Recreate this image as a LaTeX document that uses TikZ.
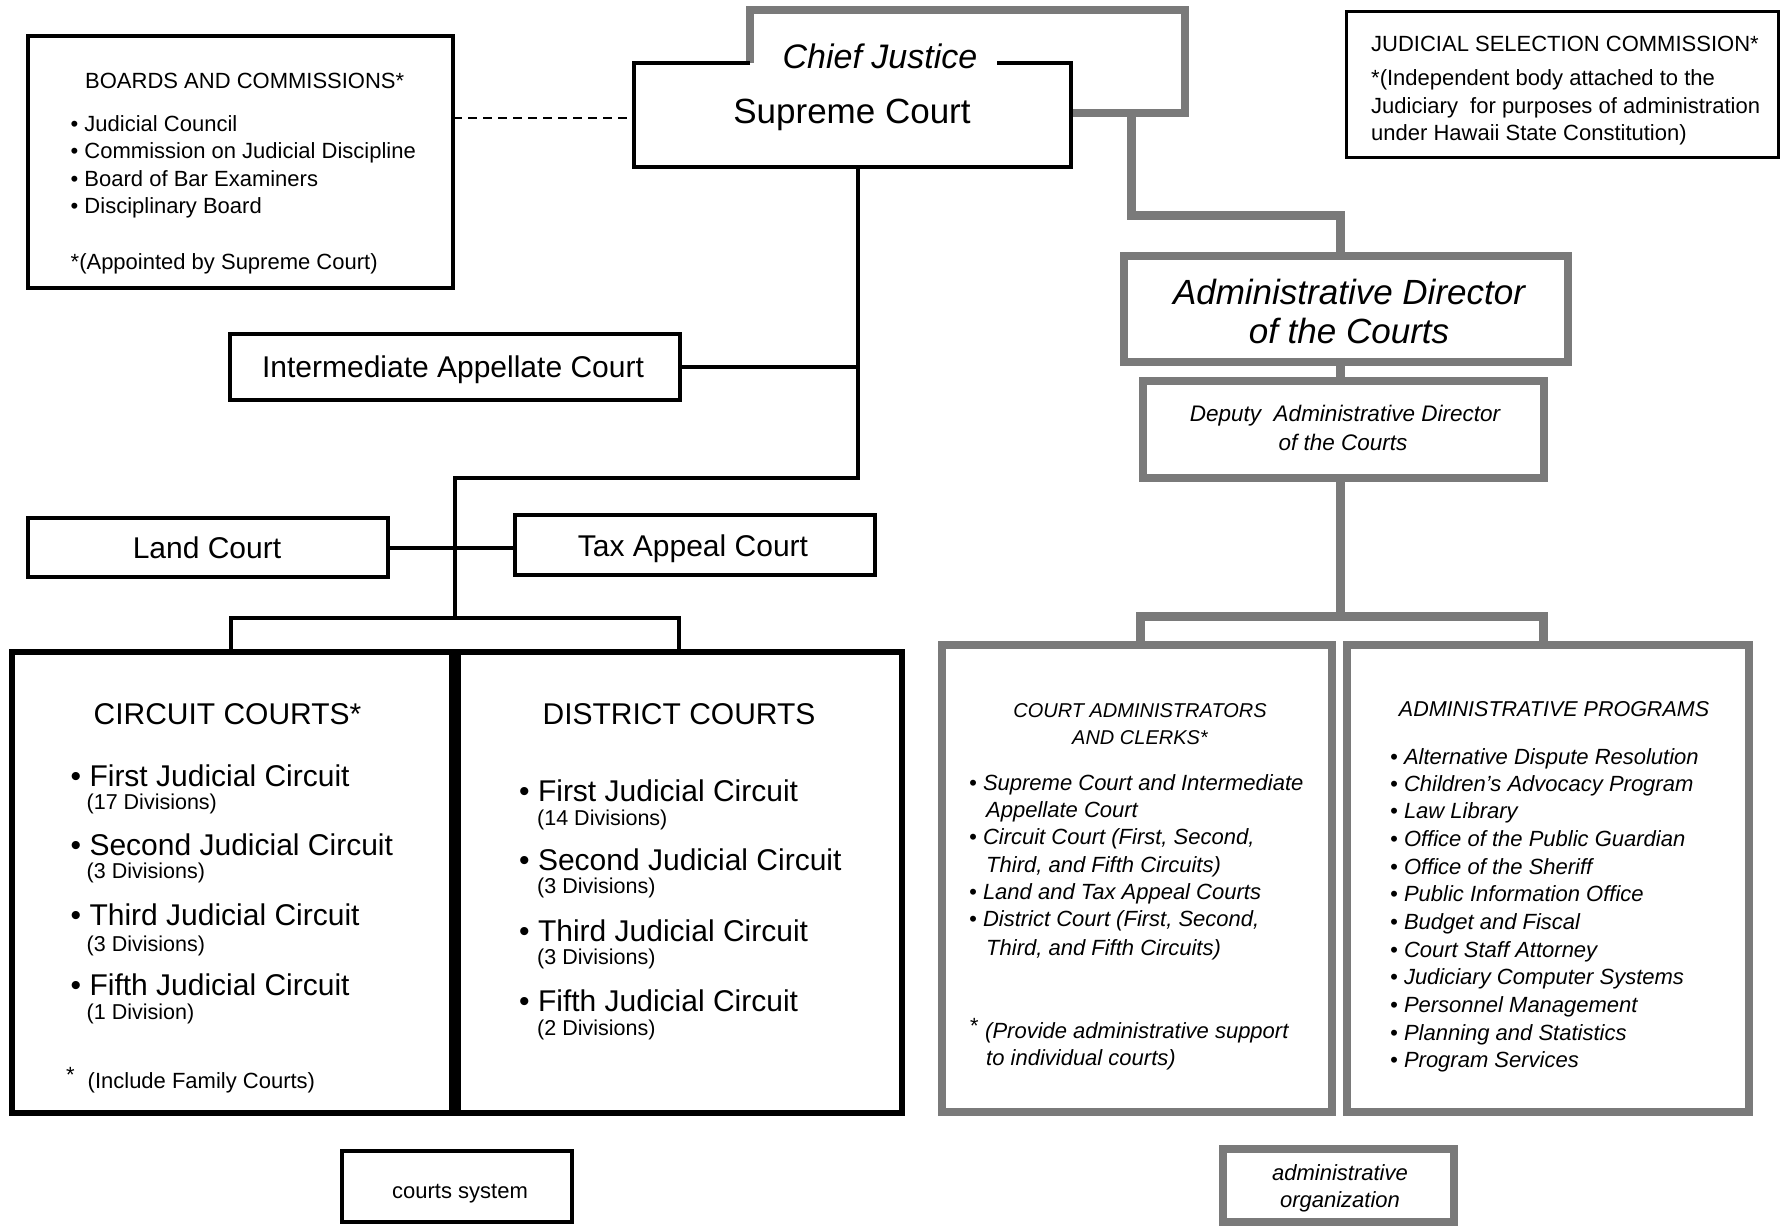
\documentclass[tikz,border=0pt]{standalone}
\usepackage{fontspec}
\setmainfont{Liberation Sans}
\usetikzlibrary{calc}
\begin{document}
\begin{tikzpicture}[x=1pt,y=-1pt,
  frame/.style={inner sep=0pt,outer sep=0pt},
  blk/.style={frame,draw=black,line width=4.5pt},
  blkthick/.style={frame,draw=black,line width=5.5pt},
  gry/.style={frame,draw=black!52,line width=8pt},
  bline/.style={draw=black,line width=4pt},
  gline/.style={draw=black!52,line width=9pt},
  lt/.style={inner sep=0pt,anchor=mid west},
  ct/.style={inner sep=0pt,anchor=mid},
  n20/.style={font=\fontsize{20}{24}\selectfont\itshape,yshift=-6pt},
  n22/.style={font=\fontsize{22}{26}\selectfont,yshift=-6pt},
  sub/.style={font=\fontsize{21.5}{26}\selectfont,yshift=-8pt},
  i22/.style={font=\fontsize{22}{26}\selectfont\itshape,yshift=-6pt},
  i215/.style={font=\fontsize{21.5}{26}\selectfont\itshape,yshift=-6pt},
  i225/.style={font=\fontsize{22.5}{27}\selectfont\itshape,yshift=-6pt},
  n30/.style={font=\fontsize{30}{36}\selectfont,yshift=-8.5pt},
  n35/.style={font=\fontsize{35}{42}\selectfont,yshift=-9.5pt},
  i34/.style={font=\fontsize{34}{40}\selectfont\itshape,yshift=-9pt},
  i35/.style={font=\fontsize{35}{42}\selectfont\itshape,yshift=-10pt},
]
\useasboundingbox (0,0) rectangle (1784,1226);

% ---------- boxes (frames) ----------
\node[blk,minimum width=425pt,minimum height=252pt] (boards) at (240.5,162) {};
\node[frame,minimum width=437pt,minimum height=104pt] (sc) at (852.5,115) {};
\node[frame,draw=black,line width=3pt,minimum width=432pt,minimum height=146pt] (jsc) at (1562,84) {};
\node[blk,minimum width=450pt,minimum height=66pt] (iac) at (455,367) {};
\node[blk,minimum width=360pt,minimum height=59pt] (land) at (208,547.5) {};
\node[blk,minimum width=360pt,minimum height=60pt] (tax) at (695,545) {};
\node[blkthick,minimum width=440pt,minimum height=461pt] (circ) at (232,882.5) {};
\node[blkthick,minimum width=444pt,minimum height=461pt] (dist) at (680,882.5) {};
\node[gry,minimum width=444pt,minimum height=106pt] (add) at (1346,309) {};
\node[gry,minimum width=401pt,minimum height=97pt] (dep) at (1343.5,429.5) {};
\node[gry,minimum width=390pt,minimum height=467pt] (cac) at (1137,878.5) {};
\node[gry,minimum width=402pt,minimum height=467pt] (apr) at (1548,878.5) {};
\node[blk,minimum width=230pt,minimum height=71pt] (csys) at (457,1186.5) {};
\node[gry,minimum width=231pt,minimum height=73pt] (aorg) at (1338.5,1185.5) {};

% ---------- Supreme Court frame with gap and Chief Justice outline ----------
\coordinate (cjl) at (750,63);
\coordinate (cjr) at (997,63);
\coordinate (cjtl) at (750,10);
\coordinate (cjtr) at (1185,10);
\coordinate (cjbr) at (1185,113);
\draw[draw=black!52,line width=8pt] (cjl) -- (cjtl) -- (cjtr) -- (cjbr) -- (cjbr -| sc.east);
\draw[draw=black,line width=4.5pt] (cjl) -- (sc.north west) -- (sc.south west) -- (sc.south east) -- (sc.north east) -- (cjr);

% ---------- black connectors ----------
\coordinate (dl) at (0,118);
\draw[draw=black,line width=2pt,dash pattern=on 9pt off 6pt] (boards.east |- dl) -- (sc.west |- dl);
\coordinate (t1) at (858,370);
\coordinate (t2) at (858,478);
\coordinate (t3) at (455,478);
\coordinate (t4) at (455,618);
\draw[bline] (sc.south -| t1) -- (t2) -- (t3) -- (t4);
\draw[bline] (iac.east) -- (iac.east -| t1);
\draw[bline] (land.east) -- (land.east -| tax.west);
\coordinate (b1) at (231,618);
\coordinate (b2) at (679,618);
\draw[bline] (b1 |- circ.north) -- (b1) -- (b2) -- (b2 |- dist.north);

% ---------- gray connectors ----------
\coordinate (g1) at (1131,113);
\coordinate (g2) at (1131,215);
\coordinate (g3) at (1340,215);
\coordinate (g4) at (1340,616);
\coordinate (g5) at (1140,616);
\coordinate (g6) at (1543,616);
\draw[gline] (g1) -- (g2) -- (g3) -- (g3 |- add.north);
\draw[gline] (add.south -| g3) -- (dep.north -| g3);
\draw[gline] (dep.south -| g3) -- (g4);
\draw[gline] (g5 |- cac.north) -- (g5) -- (g6) -- (g6 |- apr.north);

% ---------- texts: boards ----------
\node[lt,n22] (bt) at (85,80) {BOARDS AND COMMISSIONS*};
\node[lt,n22] (b1t) at (70.5,123) {• Judicial Council};
\node[lt,n22] (b2t) at (70.5,150) {• Commission on Judicial Discipline};
\node[lt,n22] (b3t) at (70.5,177.5) {• Board of Bar Examiners};
\node[lt,n22] (b4t) at (70.5,205) {• Disciplinary Board};
\node[lt,n22] (b5t) at (70.5,260.5) {*(Appointed by Supreme Court)};

% ---------- Supreme Court ----------
\node[ct,i34] (cjt) at (880,57) {Chief Justice};
\node[ct,n35] (sct) at (852,111.5) {Supreme Court};

% ---------- JSC ----------
\node[lt,n22] (j1) at (1371,43) {JUDICIAL SELECTION COMMISSION*};
\node[lt,n22] (j2) at (1371,77) {*(Independent body attached to the};
\node[lt,n22] (j3) at (1371,105) {Judiciary\ \ for purposes of administration};
\node[lt,n22] (j4) at (1371,132) {under Hawaii State Constitution)};

% ---------- admin director / deputy ----------
\node[ct,i35] (ad1) at (1349,292) {Administrative Director};
\node[ct,i35] (ad2) at (1349,331) {of the Courts};
\node[ct,i225] (dp1) at (1345,413) {Deputy\ \ Administrative Director};
\node[ct,i225] (dp2) at (1343,441.5) {of the Courts};

% ---------- IAC, land, tax ----------
\node[ct,n30] (iact) at (453,366) {Intermediate Appellate Court};
\node[ct,n30] (landt) at (207,547) {Land Court};
\node[ct,n30] (taxt) at (693,545) {Tax Appeal Court};

% ---------- circuit courts ----------
\node[ct,n30] (ct0) at (227.5,713.5) {CIRCUIT COURTS*};
\node[lt,n30] (ct1) at (70.5,775) {• First Judicial Circuit};
\node[lt,sub] (ct1s) at (86.5,799) {(17 Divisions)};
\node[lt,n30] (ct2) at (70.5,844.5) {• Second Judicial Circuit};
\node[lt,sub] (ct2s) at (86.5,868) {(3 Divisions)};
\node[lt,n30] (ct3) at (70.5,914) {• Third Judicial Circuit};
\node[lt,sub] (ct3s) at (86.5,941) {(3 Divisions)};
\node[lt,n30] (ct4) at (70.5,984) {• Fifth Judicial Circuit};
\node[lt,sub] (ct4s) at (86.5,1009) {(1 Division)};
\node[lt,n22] (ct5a) at (66,1074) {*};
\node[lt,n22] (ct5) at (87.5,1080) {(Include Family Courts)};

% ---------- district courts ----------
\node[ct,n30] (dt0) at (679,713.5) {DISTRICT COURTS};
\node[lt,n30] (dt1) at (519,790) {• First Judicial Circuit};
\node[lt,sub] (dt1s) at (537,815) {(14 Divisions)};
\node[lt,n30] (dt2) at (519,859) {• Second Judicial Circuit};
\node[lt,sub] (dt2s) at (537,883) {(3 Divisions)};
\node[lt,n30] (dt3) at (519,930) {• Third Judicial Circuit};
\node[lt,sub] (dt3s) at (537,953.5) {(3 Divisions)};
\node[lt,n30] (dt4) at (519,1000) {• Fifth Judicial Circuit};
\node[lt,sub] (dt4s) at (537,1025) {(2 Divisions)};

% ---------- court administrators ----------
\node[ct,n20] (ca0) at (1140,709) {COURT ADMINISTRATORS};
\node[ct,n20] (ca0b) at (1140,736) {AND CLERKS*};
\node[lt,i22] (ca1) at (969,782) {• Supreme Court and Intermediate};
\node[lt,i22] (ca1b) at (986,809) {Appellate Court};
\node[lt,i22] (ca2) at (969,836) {• Circuit Court (First, Second,};
\node[lt,i22] (ca2b) at (986,863.5) {Third, and Fifth Circuits)};
\node[lt,i22] (ca3) at (969,891) {• Land and Tax Appeal Courts};
\node[lt,i22] (ca4) at (969,918) {• District Court (First, Second,};
\node[lt,i22] (ca4b) at (986,946.5) {Third, and Fifth Circuits)};
\node[lt,i22] (ca5a) at (969,1025) {*};
\node[lt,i22] (ca5) at (985,1030) {(Provide administrative support};
\node[lt,i22] (ca5b) at (986,1057) {to individual courts)};

% ---------- administrative programs ----------
\node[ct,i215] (ap0) at (1554,708) {ADMINISTRATIVE PROGRAMS};
\node[lt,i22] (ap1) at (1390,755.5) {• Alternative Dispute Resolution};
\node[lt,i22] (ap2) at (1390,783) {• Children's Advocacy Program};
\node[lt,i22] (ap3) at (1390,810) {• Law Library};
\node[lt,i22] (ap4) at (1390,837.5) {• Office of the Public Guardian};
\node[lt,i22] (ap5) at (1390,866) {• Office of the Sheriff};
\node[lt,i22] (ap6) at (1390,893) {• Public Information Office};
\node[lt,i22] (ap7) at (1390,920.5) {• Budget and Fiscal};
\node[lt,i22] (ap8) at (1390,949) {• Court Staff Attorney};
\node[lt,i22] (ap9) at (1390,976) {• Judiciary Computer Systems};
\node[lt,i22] (ap10) at (1390,1003.5) {• Personnel Management};
\node[lt,i22] (ap11) at (1390,1032) {• Planning and Statistics};
\node[lt,i22] (ap12) at (1390,1059) {• Program Services};

% ---------- legend ----------
\node[ct,n22] (cst) at (460,1190) {courts system};
\node[ct,i22] (ao1) at (1340,1172) {administrative};
\node[ct,i22] (ao2) at (1340,1199) {organization};
\end{tikzpicture}
\end{document}
